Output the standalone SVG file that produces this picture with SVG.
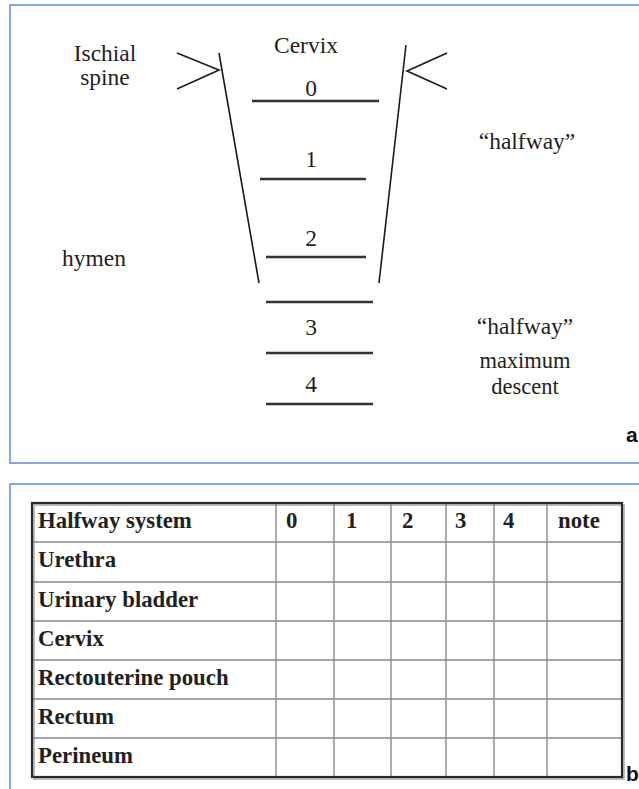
<svg xmlns="http://www.w3.org/2000/svg" width="639" height="789" viewBox="0 0 639 789">
<style>
.panel{fill:none;stroke:#5b8fd3;stroke-width:1.5}
.t{font-family:"Liberation Serif","Times New Roman",serif;font-size:23.5px;fill:#231f20}
.s{font-size:22.5px}
.m{text-anchor:middle}
.tb{font-family:"Liberation Serif","Times New Roman",serif;font-size:22.8px;font-weight:bold;fill:#231f20}
.lbl{font-family:"Liberation Sans",Arial,sans-serif;font-size:21px;font-weight:bold;fill:#111}
.edge{stroke:#1a1a1a;stroke-width:1.6;fill:none}
.lvl{stroke:#333;stroke-width:2.6;fill:none}
.grid{stroke:#8a8a8a;stroke-width:1.4;fill:none}
.outer{stroke:#2a2a2a;stroke-width:2.2;fill:none}
.shadow{stroke:#bdbdbd;stroke-width:2;fill:none}
</style>
<rect width="639" height="789" fill="#fff"/>
<g id="panel-a">
<path class="panel" d="M640,5 H10 V463 H640"/>
<g id="connectors">
<path class="edge" d="M219,53 L259,283"/>
<path class="edge" d="M406,45 L379,283"/>
<path class="edge" d="M177,53 L219,70 L177,89"/>
<path class="edge" d="M447,53 L407,71 L447,89"/>
<path class="lvl" d="M252,101 H379"/>
<path class="lvl" d="M260,179 H366"/>
<path class="lvl" d="M266,257 H366"/>
<path class="lvl" d="M266,302 H373"/>
<path class="lvl" d="M266,353 H373"/>
<path class="lvl" d="M266,404 H373"/>
</g>
<g id="ischial-spine"><text class="t m" x="105" y="61">Ischial</text><text class="t m" x="105" y="85">spine</text></g>
<g id="cervix"><text class="t m" x="306" y="53">Cervix</text></g>
<g id="level-0"><text class="t m" x="311" y="96">0</text></g>
<g id="level-1"><text class="t m" x="311" y="167">1</text></g>
<g id="level-2"><text class="t m" x="311" y="246">2</text></g>
<g id="level-3"><text class="t m" x="311" y="335">3</text></g>
<g id="level-4"><text class="t m" x="311" y="392">4</text></g>
<g id="hymen"><text class="t m" x="94" y="266">hymen</text></g>
<g id="halfway-1"><text class="t m" x="527" y="149">“halfway”</text></g>
<g id="halfway-2"><text class="t m" x="525" y="334">“halfway”</text></g>
<g id="max-descent"><text class="t s m" x="525" y="368">maximum</text><text class="t s m" x="525" y="394">descent</text></g>
<text class="lbl" x="626" y="442">a</text>
</g>
<g id="panel-b">
<path class="panel" d="M640,484 H10 V790"/>
<g id="table">
<rect class="shadow" x="34" y="505" width="590" height="274"/>
<path class="grid" d="M32,542 H622 M32,582 H622 M32,621 H622 M32,660 H622 M32,699 H622 M32,738 H622"/>
<path class="grid" d="M276,503 V777 M334,503 V777 M391,503 V777 M446,503 V777 M494,503 V777 M547,503 V777"/>
<rect class="outer" x="32" y="503" width="590" height="274"/>
<text class="tb" x="38" y="528">Halfway system</text>
<text class="tb" x="286" y="528">0</text>
<text class="tb" x="346" y="528">1</text>
<text class="tb" x="402" y="528">2</text>
<text class="tb" x="455" y="528">3</text>
<text class="tb" x="503" y="528">4</text>
<text class="tb" x="558" y="528">note</text>
<text class="tb" x="38" y="567">Urethra</text>
<text class="tb" x="38" y="607">Urinary bladder</text>
<text class="tb" x="38" y="646">Cervix</text>
<text class="tb" x="38" y="685">Rectouterine pouch</text>
<text class="tb" x="38" y="724">Rectum</text>
<text class="tb" x="38" y="763">Perineum</text>
</g>
<text class="lbl" x="626" y="781">b</text>
</g>
</svg>
